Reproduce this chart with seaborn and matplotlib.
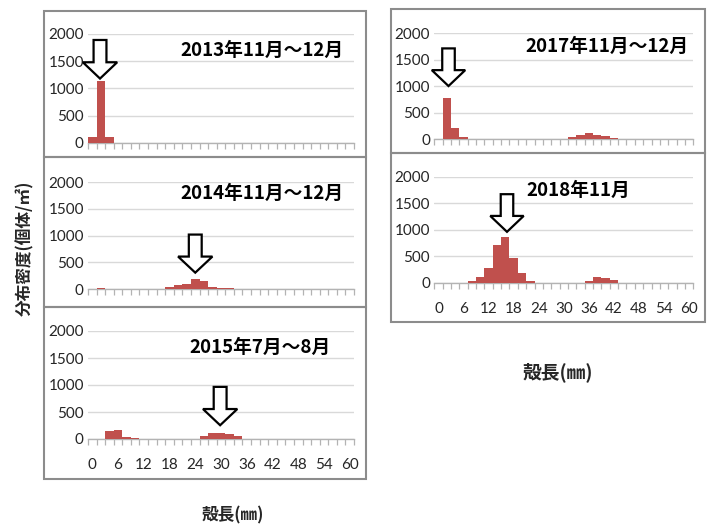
import matplotlib
matplotlib.use("Agg")
import matplotlib.pyplot as plt
from matplotlib.patches import Rectangle, Polygon
import seaborn as sns
import pandas as pd

# Shell-length classes (mm), 2 mm steps
lengths = [str(v) for v in range(0, 62, 2)]

# Distribution density (individuals / m2) per length class
dens_2013 = [110, 1130, 110, 0, 0, 0, 0, 0, 0, 0,
             0, 0, 0, 0, 0, 0, 0, 0, 0, 0,
             0, 0, 0, 0, 0, 0, 0, 0, 0, 0, 0]
dens_2014 = [0, 22, 0, 0, 0, 0, 0, 0, 0, 37,
             75, 93, 186, 149, 50, 31, 19, 0, 0, 0,
             0, 0, 0, 0, 0, 0, 0, 0, 0, 0, 0]
dens_2015 = [0, 0, 148, 173, 43, 20, 0, 0, 0, 0,
             0, 0, 0, 55, 117, 105, 99, 62, 0, 0,
             0, 0, 0, 0, 0, 0, 0, 0, 0, 0, 0]
dens_2017 = [0, 786, 220, 50, 0, 0, 0, 0, 0, 0,
             0, 0, 0, 0, 0, 0, 38, 75, 113, 82,
             69, 31, 0, 0, 0, 0, 0, 0, 0, 0, 0]
dens_2018 = [0, 0, 0, 0, 31, 113, 283, 711, 855, 459,
             176, 25, 0, 0, 0, 0, 0, 0, 31, 107,
             82, 57, 0, 0, 0, 0, 0, 0, 0, 0, 0]

titles = ["2013年11月～12月", "2014年11月～12月", "2015年7月～8月",
          "2017年11月～12月", "2018年11月"]

# Arrow tips marking the main cohort (class index, density)
arrow_x = [0.9, 12.0, 14.9, 1.2, 8.2]
arrow_y = [1180, 310, 255, 1005, 960]

y_ticks = [0, 500, 1000, 1500, 2000]
x_label_every = 3

W, H = 711, 527
BAR = "#C0504D"
AXIS_GREY = "#b3b3b3"
GRID = "#d9d9d9"
TEXT = "#262626"

sns.set_style("white")
plt.rcParams["font.family"] = ["Lato", "DejaVu Sans"]
CJK = ["Noto Sans CJK JP", "DejaVu Sans"]

fig = plt.figure(figsize=(W / 100, H / 100), dpi=100)


def px_axes(x0, x1, y_top, y_zero):
    return fig.add_axes([x0 / W, 1 - y_zero / H, (x1 - x0) / W, (y_zero - y_top) / H])


def frame(x0, y0, x1, y1):
    fig.add_artist(Rectangle((x0 / W, 1 - y1 / H), (x1 - x0) / W, (y1 - y0) / H,
                             transform=fig.transFigure, fill=False,
                             ec="#8c8c8c", lw=1.5, zorder=0))


def arrow(ax, x0, y0):
    hw, sw, hl, L = 2.0, 0.75, 300, 710
    pts = [(x0, y0), (x0 - hw, y0 + hl), (x0 - sw, y0 + hl), (x0 - sw, y0 + L),
           (x0 + sw, y0 + L), (x0 + sw, y0 + hl), (x0 + hw, y0 + hl)]
    ax.add_patch(Polygon(pts, closed=True, fc="white", ec="black", lw=1.6,
                         zorder=5, clip_on=False))


panels = [
    # data, title, title x (axes frac), title y (data), axes box px, show x labels
    (dens_2013, 0, 0.654, 1706, (88, 354, 34, 142.7), False),
    (dens_2014, 1, 0.654, 1786, (88, 354, 182, 289.3), False),
    (dens_2015, 2, 0.645, 1704, (88, 354, 331, 439), True),
    (dens_2017, 3, 0.667, 1751, (434.3, 693.3, 33.3, 139.3), False),
    (dens_2018, 4, 0.557, 1740, (434.3, 693.3, 176.7, 282.7), True),
]

for values, k, tx, ty, box, show_x in panels:
    ax = px_axes(*box)
    df = pd.DataFrame({"length": lengths, "density": values})
    sns.barplot(data=df, x="length", y="density", order=lengths, ax=ax,
                color=BAR, saturation=1, width=1.0, edgecolor="none", zorder=3)
    ax.set_xlim(-0.5, len(lengths) - 0.5)
    ax.set_ylim(0, 2000)
    ax.set_yticks(y_ticks)
    ax.set_yticklabels([str(t) for t in y_ticks], fontsize=11, color=TEXT)
    ax.tick_params(axis="y", length=0, pad=3)
    ax.yaxis.grid(True, color=GRID, lw=1.0, zorder=0)
    ax.set_axisbelow(True)

    major = list(range(0, len(lengths), x_label_every))
    ax.set_xticks(major)
    if show_x:
        ax.set_xticklabels([lengths[i] for i in major], fontsize=11, color=TEXT)
    else:
        ax.set_xticklabels([])
    ax.set_xticks([i - 0.5 for i in range(len(lengths) + 1)], minor=True)
    ax.tick_params(axis="x", which="major", length=0, pad=14)
    ax.tick_params(axis="x", which="minor", length=4.5, width=0.9,
                   color=AXIS_GREY, direction="out", bottom=True)

    for s in ["top", "left", "right"]:
        ax.spines[s].set_visible(False)
    ax.spines["bottom"].set_color(AXIS_GREY)
    ax.spines["bottom"].set_linewidth(1.0)
    ax.set_xlabel("")
    ax.set_ylabel("")

    ax.text(tx, ty, titles[k], transform=ax.get_yaxis_transform(),
            ha="center", va="center", fontsize=13.5, fontweight="bold",
            family=CJK, color="black", zorder=6)
    arrow(ax, arrow_x[k], arrow_y[k])

# Chart borders
frame(44, 10.7, 366, 157)
frame(44, 157, 366, 307)
frame(44, 307, 366, 479)
frame(391, 9, 705, 153)
frame(391, 153, 705, 322)

fig.text(25 / W, 1 - 248 / H, "分布密度(個体/㎡)", rotation=90, ha="center",
         va="center", fontsize=12, fontweight="bold", family=CJK)
fig.text(233 / W, 1 - 515 / H, "殻長(㎜)", ha="center", va="center",
         fontsize=12, fontweight="bold", family=CJK)
fig.text(558 / W, 1 - 372 / H, "殻長(㎜)", ha="center", va="center",
         fontsize=13.5, fontweight="bold", family=CJK)

fig.savefig("out.png", dpi=100, facecolor="white")
